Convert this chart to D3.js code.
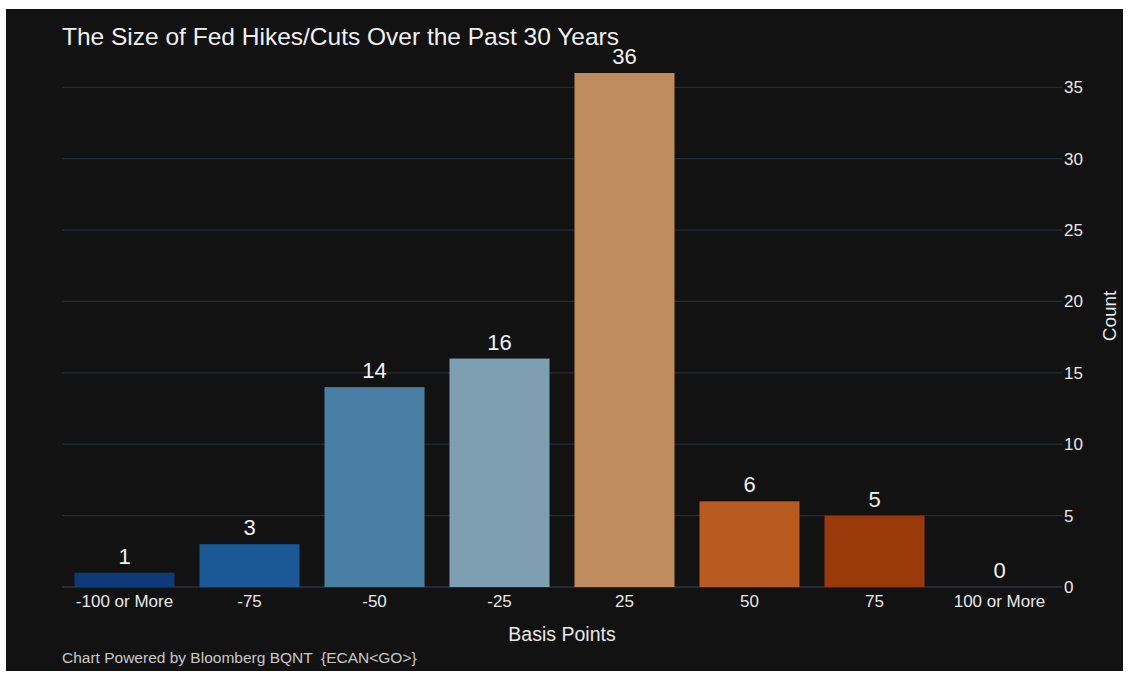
<!DOCTYPE html>
<html>
<head>
<meta charset="utf-8">
<script src="https://cdn.jsdelivr.net/npm/d3@7"></script>
<style>
  html, body { margin: 0; padding: 0; background: #ffffff; }
  svg { display: block; font-family: "Liberation Sans", Arial, sans-serif; }
</style>
</head>
<body>
<svg id="chart" width="1128" height="673"></svg>
<script>
// Size of Fed rate moves (basis points) and how often each occurred
const categories = ["-100 or More", "-75", "-50", "-25", "25", "50", "75", "100 or More"];
const counts = [1, 3, 14, 16, 36, 6, 5, 0];
const barColors = ["#0f3a78", "#1a5896", "#4a7fa4", "#7e9fb2", "#c08b5e", "#b95b21", "#9a3a0b", "#9a3a0b"];
const yTicks = [0, 5, 10, 15, 20, 25, 30, 35];

const FONT = "'Liberation Sans', Arial, sans-serif";
const svg = d3.select("#chart");

// dark panel
svg.append("rect")
  .attr("x", 6).attr("y", 9)
  .attr("width", 1117).attr("height", 662)
  .attr("fill", "#121212");

const plot = { left: 62, right: 1062, top: 73, bottom: 587 };

const x = d3.scaleBand()
  .domain(categories)
  .range([plot.left, plot.right])
  .paddingInner(0.2)
  .paddingOuter(0.1);

const y = d3.scaleLinear()
  .domain([0, 36])
  .range([plot.bottom, plot.top]);

// horizontal gridlines
svg.append("g")
  .selectAll("line")
  .data(yTicks)
  .join("line")
  .attr("x1", plot.left).attr("x2", plot.right)
  .attr("y1", d => y(d)).attr("y2", d => y(d))
  .attr("stroke", d => d === 0 ? "#3a404c" : "#262b35")
  .attr("stroke-width", 1.2);

// right-hand count axis
const yAxis = d3.axisRight(y).tickValues(yTicks).tickSize(0).tickPadding(2);
const gy = svg.append("g")
  .attr("transform", `translate(${plot.right},0)`)
  .attr("font-family", FONT)
  .call(yAxis);
gy.select(".domain").remove();
gy.selectAll("text")
  .attr("fill", "#e8e8e8")
  .attr("font-size", 17);

// bars
svg.append("g")
  .selectAll("rect")
  .data(categories)
  .join("rect")
  .attr("x", d => x(d))
  .attr("width", x.bandwidth())
  .attr("y", (d, i) => y(counts[i]))
  .attr("height", (d, i) => y(0) - y(counts[i]))
  .attr("fill", (d, i) => barColors[i]);

// value labels above bars
svg.append("g")
  .attr("font-family", FONT)
  .selectAll("text")
  .data(categories)
  .join("text")
  .attr("x", d => x(d) + x.bandwidth() / 2)
  .attr("y", (d, i) => y(counts[i]) - 9)
  .attr("text-anchor", "middle")
  .attr("fill", "#f2f2f2")
  .attr("font-size", 22)
  .text((d, i) => counts[i]);

// category axis
const xAxis = d3.axisBottom(x).tickSize(0).tickPadding(8);
const gx = svg.append("g")
  .attr("transform", `translate(0,${plot.bottom})`)
  .call(xAxis)
  .attr("font-family", FONT);
gx.select(".domain").remove();
gx.selectAll("text")
  .attr("fill", "#e8e8e8")
  .attr("font-size", 17);

// title and axis titles
svg.append("text")
  .attr("x", 62).attr("y", 45)
  .attr("font-family", FONT)
  .attr("fill", "#f0f0f0")
  .attr("font-size", 24.5)
  .text("The Size of Fed Hikes/Cuts Over the Past 30 Years");

svg.append("text")
  .attr("x", (plot.left + plot.right) / 2).attr("y", 641)
  .attr("font-family", FONT)
  .attr("text-anchor", "middle")
  .attr("fill", "#e8e8e8")
  .attr("font-size", 19.5)
  .text("Basis Points");

svg.append("text")
  .attr("transform", "translate(1116,316) rotate(-90)")
  .attr("font-family", FONT)
  .attr("text-anchor", "middle")
  .attr("fill", "#e8e8e8")
  .attr("font-size", 19)
  .text("Count");

svg.append("text")
  .attr("x", 62).attr("y", 663)
  .attr("font-family", FONT)
  .attr("fill", "#c8c8c8")
  .attr("font-size", 15.5)
  .attr("xml:space", "preserve")
  .style("white-space", "pre")
  .text("Chart Powered by Bloomberg BQNT  {ECAN<GO>}");
</script>
</body>
</html>
